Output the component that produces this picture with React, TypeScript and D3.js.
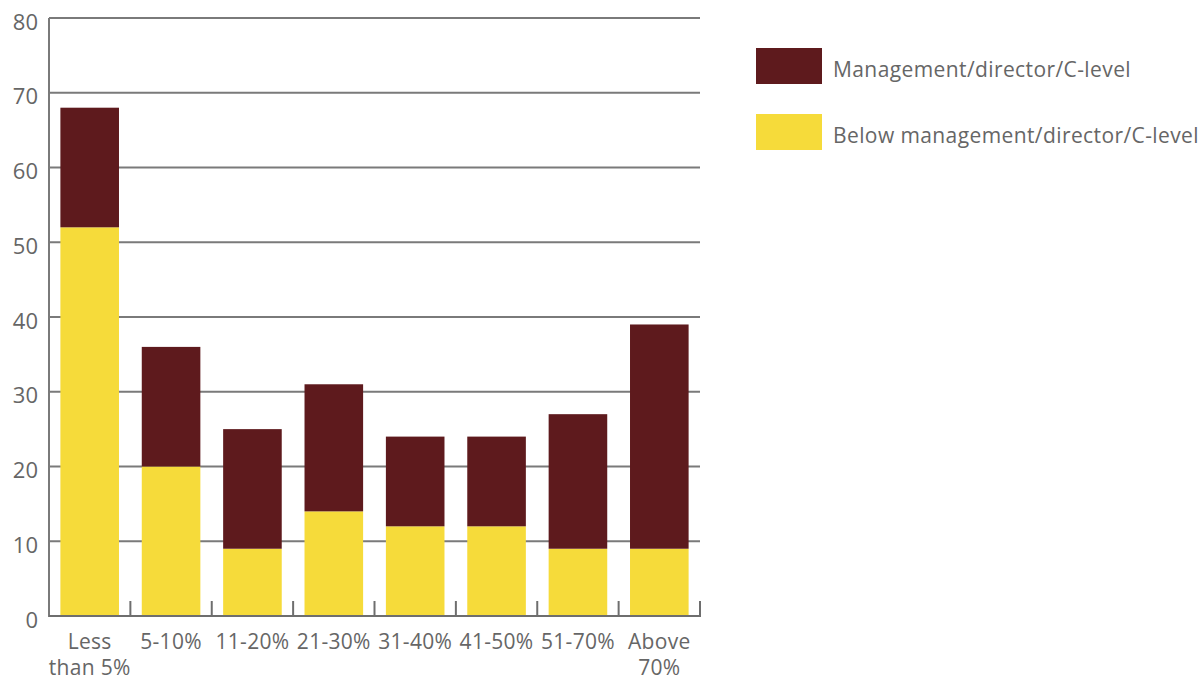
import React from "react";
import * as d3 from "d3";

const categories = ["Less than 5%", "5-10%", "11-20%", "21-30%", "31-40%", "41-50%", "51-70%", "Above 70%"];
const categoryLines = [["Less", "than 5%"], ["5-10%"], ["11-20%"], ["21-30%"], ["31-40%"], ["41-50%"], ["51-70%"], ["Above", "70%"]];
const belowValues = [52, 20, 9, 14, 12, 12, 9, 9];
const managementValues = [16, 16, 16, 17, 12, 12, 18, 30];
const yTicks = [0, 10, 20, 30, 40, 50, 60, 70, 80];
const seriesNames = ["Management/director/C-level", "Below management/director/C-level"];
const seriesColors = ["#5e1a1d", "#f6db3a"];

const W = 1203, H = 677;
const left = 49, right = 700, top = 18, bottom = 616;
const FONT = "'Open Sans', sans-serif";
const TEXT = "#666666";
const GRID = "#7a7a7a";

export default function App() {
  const x = d3.scaleBand<string>().domain(categories).range([left, right]).paddingInner(0.28).paddingOuter(0.14);
  const y = d3.scaleLinear().domain([0, 80]).range([bottom, top]);
  const stack = categories.map((c, i) => ({ c, below: belowValues[i], mgmt: managementValues[i] }));
  const boundaries = d3.range(categories.length + 1).map((i) => left + (right - left) * i / categories.length);

  return (
    <svg width={W} height={H} style={{ position: "absolute", left: 0, top: 0 }}>
      <rect width={W} height={H} fill="#fff" />
      {yTicks.filter((t) => t > 0).map((t) => (
        <line key={t} x1={left} x2={right} y1={y(t)} y2={y(t)} stroke={GRID} strokeWidth={2} />
      ))}
      {stack.map((d) => (
        <g key={d.c}>
          <rect x={x(d.c)} width={x.bandwidth()} y={y(d.below)} height={y(0) - y(d.below)} fill={seriesColors[1]} />
          <rect x={x(d.c)} width={x.bandwidth()} y={y(d.below + d.mgmt)} height={y(d.below) - y(d.below + d.mgmt)} fill={seriesColors[0]} />
        </g>
      ))}
      <line x1={left} x2={left} y1={top} y2={bottom + 1} stroke={GRID} strokeWidth={2} />
      <line x1={left} x2={right + 1} y1={bottom} y2={bottom} stroke="#6e6e6e" strokeWidth={2} />
      {boundaries.slice(1).map((bx, i) => (
        <line key={i} x1={bx} x2={bx} y1={bottom} y2={bottom - 15} stroke="#6e6e6e" strokeWidth={2} />
      ))}
      {yTicks.map((t) => (
        <text key={t} x={38} y={y(t) + 11.5} textAnchor="end" fontFamily={FONT} fontSize={22} fill={TEXT}>{t}</text>
      ))}
      {categories.map((c, i) => (
        <text key={c} textAnchor="middle" fontFamily={FONT} fontSize={21} letterSpacing={0.3} fill={TEXT}>
          {categoryLines[i].map((ln, j) => (
            <tspan key={j} x={(x(c) as number) + x.bandwidth() / 2} y={649 + j * 26}>{ln}</tspan>
          ))}
        </text>
      ))}
      {seriesNames.map((n, i) => (
        <g key={n}>
          <rect x={756} y={48 + i * 66} width={66} height={36} fill={seriesColors[i]} />
          <text x={833} y={77 + i * 66} fontFamily={FONT} fontSize={21} letterSpacing={0.4} fill={TEXT}>{n}</text>
        </g>
      ))}
    </svg>
  );
}
